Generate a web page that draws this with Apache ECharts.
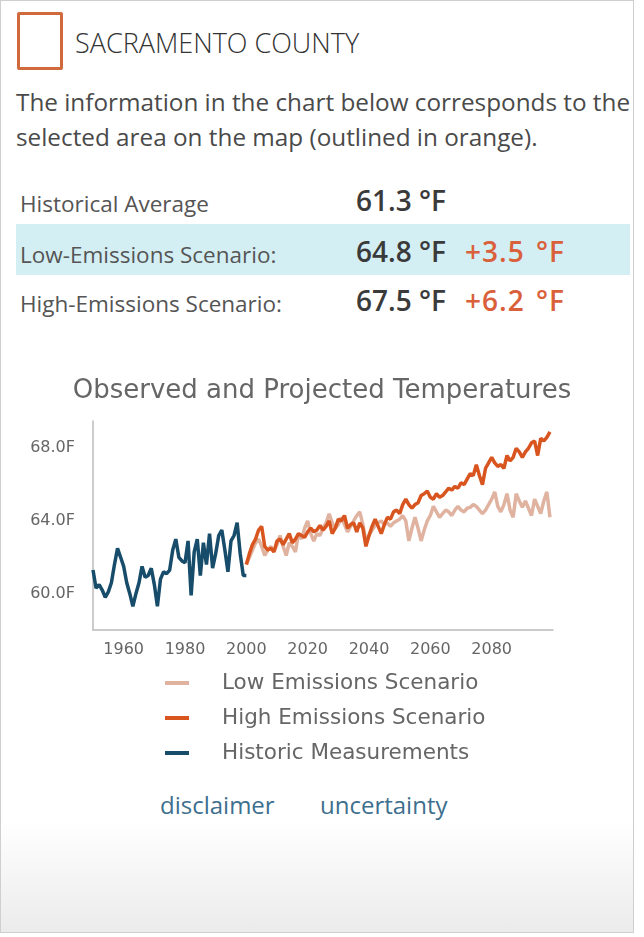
<!DOCTYPE html>
<html>
<head>
<meta charset="utf-8">
<script src="https://cdn.jsdelivr.net/npm/echarts@6/dist/echarts.min.js"></script>
<style>
  html, body { margin: 0; padding: 0; background: #fff; }
  #panel { position: relative; width: 644px; height: 937px; overflow: hidden; font-family: "Open Sans", sans-serif; }
  #card { position: absolute; left: 0; top: 0; width: 632px; height: 931px; border: 1px solid #cfcfcf;
          background: linear-gradient(to bottom, #fff 0, #fff 820px, #ebebeb 931px); }
  .abs { position: absolute; white-space: nowrap; }
  #box { left: 17px; top: 12px; width: 40px; height: 52px; border: 3px solid #d06a3c; border-radius: 2px; }
  #county { left: 75px; top: 24px; font-size: 27px; font-weight: 300; color: #333; }
  #intro { left: 16px; top: 84px; font-size: 24.3px; line-height: 35px; color: #4a4a4a; }
  #hl { left: 16px; top: 224px; width: 614px; height: 51px; background: #d4eff4; }
  .lab { left: 20px; font-size: 22.5px; color: #555; }
  .val { left: 356px; font-size: 28px; font-weight: 600; color: #3a3a3a; }
  .diff { left: 465px; font-size: 28px; font-weight: 600; color: #d9603b; letter-spacing: 1px; word-spacing: 3px; }
  .link { top: 788px; font-size: 24px; color: #3d6f8e; }
  #chart { position: absolute; left: 0; top: 0; width: 644px; height: 937px; z-index: 2; }
</style>
</head>
<body>
<div id="panel">
  <div id="card"></div>
  <div id="box" class="abs"></div>
  <div id="county" class="abs">SACRAMENTO COUNTY</div>
  <div id="intro" class="abs">The information in the chart below corresponds to the<br>selected area on the map (outlined in orange).</div>
  <div id="hl" class="abs"></div>
  <div class="abs lab" style="top:188px">Historical Average</div>
  <div class="abs val" style="top:181px">61.3 °F</div>
  <div class="abs lab" style="top:239px">Low-Emissions Scenario:</div>
  <div class="abs val" style="top:232px">64.8 °F</div>
  <div class="abs diff" style="top:232px">+3.5 °F</div>
  <div class="abs lab" style="top:288px">High-Emissions Scenario:</div>
  <div class="abs val" style="top:281px">67.5 °F</div>
  <div class="abs diff" style="top:281px">+6.2 °F</div>
  <div class="abs link" style="left:160px">disclaimer</div>
  <div class="abs link" style="left:320px">uncertainty</div>
  <div id="chart"></div>
</div>
<script>
// annual mean temperature, °F
const histStart = 1950;
const historic = [
  61.3, 60.3, 60.5, 60.2, 59.8, 60.1, 60.6, 61.6, 62.5, 62.0,
  61.5, 60.6, 60.0, 59.3, 60.0, 60.6, 61.5, 60.9, 61.0, 61.4,
  60.5, 59.3, 60.8, 61.2, 61.1, 61.3, 62.4, 63.0, 62.0, 61.8,
  61.7, 62.9, 59.9, 62.3, 63.0, 61.0, 62.8, 61.6, 63.3, 61.4,
  62.2, 63.2, 63.5, 62.4, 61.2, 62.9, 63.2, 63.9, 62.2, 61.0,
  61.0
];
const projStart = 2000;
const lowEmissions = [
  61.6, 62.0, 62.4, 62.8, 63.0, 62.6, 62.1, 62.4, 62.6, 62.3,
  62.7, 63.2, 62.6, 62.1, 62.8, 62.6, 62.3, 63.3, 63.0, 63.6,
  64.0, 63.3, 62.9, 63.3, 63.2, 63.6, 63.9, 64.4, 63.9, 63.6,
  63.8, 64.2, 63.8, 63.4, 63.7, 64.0, 64.3, 64.5, 63.8, 62.9,
  63.2, 63.5, 63.75, 63.9, 64.0, 63.8, 63.9, 63.7, 63.9, 64.0,
  64.1, 64.3, 64.0, 62.9, 63.6, 64.2, 63.6, 62.9, 63.5, 64.0,
  64.3, 64.8, 64.5, 64.2, 64.4, 64.6, 64.5, 64.3, 64.6, 64.8,
  64.6, 64.5, 64.7, 64.75, 64.9, 64.8, 64.6, 64.4, 64.6, 64.9,
  65.2, 65.6, 64.8, 64.5, 64.9, 65.5, 64.6, 64.2, 65.5, 65.1,
  64.75, 65.1, 64.7, 64.3, 65.2, 64.8, 64.4, 65.1, 65.6, 64.2
];
const highEmissions = [
  61.6, 62.2, 62.7, 63.0, 63.5, 63.7, 62.6, 62.4, 62.5, 62.3,
  62.9, 63.0, 62.7, 63.0, 63.3, 62.8, 63.0, 63.3, 63.2, 63.1,
  63.4, 63.6, 63.4, 63.5, 63.75, 63.5, 63.7, 64.0, 63.3, 63.6,
  64.1, 64.0, 64.3, 63.6, 63.8, 63.9, 63.4, 63.9, 63.6, 62.6,
  63.2, 63.7, 64.1, 63.7, 63.3, 63.8, 64.2, 64.1, 64.5, 64.6,
  64.4, 64.9, 65.2, 64.9, 64.7, 64.9, 65.0, 65.4, 65.5, 65.65,
  65.3, 65.2, 65.5, 65.3, 65.4, 65.6, 65.8, 65.7, 65.9, 65.8,
  66.1, 66.0, 66.3, 66.6, 66.5, 67.1, 66.5, 66.0, 66.9, 67.2,
  67.5, 67.2, 67.0, 67.1, 66.9, 67.6, 67.3, 67.5, 68.0, 67.8,
  67.5, 67.8, 68.0, 68.3, 68.4, 67.6, 68.55, 68.4, 68.6, 68.9
];
const xTickLabels = [1960, 1980, 2000, 2020, 2040, 2060, 2080];
const yTickLabels = [60, 64, 68];

function toPairs(start, values) {
  return values.map((v, i) => [start + i, v]);
}

const chart = echarts.init(document.getElementById('chart'));
const font = '"DejaVu Sans", sans-serif';
chart.setOption({
  animation: false,
  backgroundColor: 'transparent',
  title: {
    text: 'Observed and Projected Temperatures',
    left: 'center',
    top: 373,
    textStyle: { fontSize: 26, fontWeight: 'normal', color: '#666', fontFamily: font }
  },
  legend: {
    orient: 'vertical',
    left: 160,
    top: 667,
    icon: 'rect',
    itemWidth: 24,
    itemHeight: 4,
    itemGap: 13,
    textStyle: { fontSize: 21.5, color: '#666', fontFamily: font, padding: [0, 0, 0, 28] },
    data: ['Low Emissions Scenario', 'High Emissions Scenario', 'Historic Measurements']
  },
  grid: { left: 93, right: 91, top: 421, bottom: 307 },
  xAxis: {
    type: 'value',
    min: 1950,
    max: 2100,
    interval: 10,
    splitLine: { show: false },
    axisTick: { show: false },
    axisLine: { lineStyle: { color: '#bbb', width: 1.5 } },
    axisLabel: {
      fontSize: 16, color: '#666', fontFamily: font, margin: 12,
      formatter: v => xTickLabels.includes(v) ? String(v) : ''
    }
  },
  yAxis: {
    type: 'value',
    min: 58,
    max: 69.5,
    interval: 2,
    splitLine: { show: false },
    axisTick: { show: false },
    axisLine: { show: true, lineStyle: { color: '#bbb', width: 1.5 } },
    axisLabel: {
      fontSize: 16, color: '#666', fontFamily: font, margin: 18,
      formatter: v => yTickLabels.includes(v) ? v.toFixed(1) + 'F' : ''
    }
  },
  series: [
    {
      name: 'Low Emissions Scenario', type: 'line', showSymbol: false,
      data: toPairs(projStart, lowEmissions),
      lineStyle: { width: 3.5, color: '#e0b3a1' }, itemStyle: { color: '#e0b3a1' }
    },
    {
      name: 'High Emissions Scenario', type: 'line', showSymbol: false,
      data: toPairs(projStart, highEmissions),
      lineStyle: { width: 3.5, color: '#d9551f' }, itemStyle: { color: '#d9551f' }
    },
    {
      name: 'Historic Measurements', type: 'line', showSymbol: false,
      data: toPairs(histStart, historic),
      lineStyle: { width: 3.5, color: '#174c6b' }, itemStyle: { color: '#174c6b' }
    }
  ]
});
</script>
</body>
</html>
